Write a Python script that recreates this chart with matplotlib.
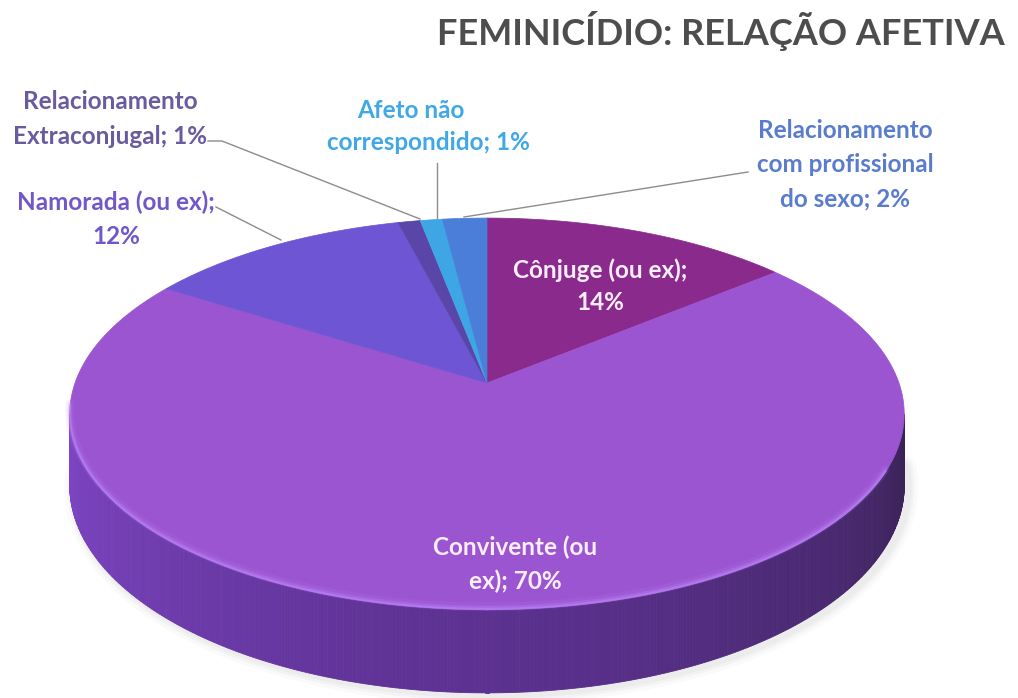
import matplotlib.pyplot as plt
import numpy as np
from matplotlib.patches import Polygon
from matplotlib.colors import to_rgb

plt.rcParams['font.family'] = ['Lato', 'DejaVu Sans']

# DATA
categories = ['Cônjuge (ou ex)', 'Convivente (ou ex)', 'Namorada (ou ex)',
              'Relacionamento Extraconjugal', 'Afeto não correspondido',
              'Relacionamento com profissional do sexo']
values = [14, 70, 12, 1, 1, 2]
label_texts = ['Cônjuge (ou ex);\n14%', 'Convivente (ou\nex); 70%', 'Namorada (ou ex);\n12%',
               'Relacionamento\nExtraconjugal; 1%', 'Afeto não\ncorrespondido; 1%',
               'Relacionamento\ncom profissional\ndo sexo; 2%']
colors = ['#8a2a8c', '#9b55d0', '#6d55d4', '#5a45a8', '#3ea6e4', '#4a7ed8']
label_colors = ['#fbeefb', '#fbeefb', '#7158c8', '#6a5a9e', '#40a8e6', '#5a7ccc']

# geometry of the 3D pie (pixel space)
cx, cy = 487, 383
A, B, k = 412, 191, 0.158
depth = 83


def proj(t, drop=0.0):
    d = np.sin(t)
    w = 1 + k * d
    return cx + A * np.cos(t) / w, cy - B * d / w + drop / w * (1 - k)


fig = plt.figure(figsize=(10.18, 6.98), dpi=100)
ax = fig.add_axes([0, 0, 1, 1])
ax.set_xlim(0, 1018)
ax.set_ylim(698, 0)
ax.axis('off')

# soft shadow under the bottom edge
tt = np.linspace(np.pi + 0.1, 2 * np.pi - 0.05, 300)
sx, sy = proj(tt, depth)
for lw, a in [(14, 0.04), (9, 0.05), (5, 0.06)]:
    ax.plot(sx + 4, sy + 2, color='gray', lw=lw, alpha=a, solid_capstyle='round', zorder=0)

# side of the pie (front half), gradient strips
ts = np.linspace(np.pi + np.arcsin(k), 2 * np.pi - np.arcsin(k), 400)
c_left = np.array(to_rgb('#7f46c6'))
c_mid = np.array(to_rgb('#5e3294'))
c_right = np.array(to_rgb('#3a2256'))
for i in range(len(ts) - 1):
    t0, t1 = ts[i], ts[i + 1]
    x0, y0 = proj(t0)
    x1, y1 = proj(t1)
    bx0, by0 = proj(t0, depth)
    bx1, by1 = proj(t1, depth)
    f = i / (len(ts) - 2)
    if f < 0.45:
        col = c_left + (c_mid - c_left) * (f / 0.45)
    else:
        col = c_mid + (c_right - c_mid) * ((f - 0.45) / 0.55) ** 1.2
    ax.add_patch(Polygon([[x0, y0], [x1, y1], [bx1, by1], [bx0, by0]],
                         closed=True, fc=col, ec=col, lw=0.6, zorder=1))

# top face wedges, starting at 12 o'clock going clockwise
total = sum(values)
cum = np.cumsum([0] + values) / total
bounds = np.pi / 2 - 2 * np.pi * cum
for i, v in enumerate(values):
    tt = np.linspace(bounds[i], bounds[i + 1], 200)
    px, py = proj(tt)
    ax.add_patch(Polygon(np.c_[np.r_[cx, px], np.r_[cy, py]], closed=True,
                         fc=colors[i], ec=colors[i], lw=0.5, zorder=2))

# light bevel on the front edge
tt = np.linspace(np.pi + 0.12, 2 * np.pi - 0.45, 200)
rx, ry = proj(tt)
for lw, a, off in [(6, 0.12, -3), (3, 0.25, -2), (1.5, 0.45, -1)]:
    ax.plot(rx, ry + off, color='#c08cff', lw=lw, alpha=a, solid_capstyle='round', zorder=3)

fs = 17.5
ls = 1.6
# inner labels
ax.text(600, 286, label_texts[0], ha='center', va='center', fontsize=fs, fontweight='bold',
        color=label_colors[0], linespacing=1.5, zorder=5)
ax.text(515, 564, label_texts[1], ha='center', va='center', fontsize=fs, fontweight='bold',
        color=label_colors[1], linespacing=1.55, zorder=5)

# outer labels with leader lines
outer = {
    2: dict(pos=(116, 219), line=[(216, 207), (281, 240)]),
    3: dict(pos=(110, 119), line=[(208, 141), (222, 141), (420, 219)]),
    5: dict(pos=(845, 165), line=[(748, 172), (464, 217)]),
}
for i, o in outer.items():
    ax.text(o['pos'][0], o['pos'][1], label_texts[i], ha='center', va='center', fontsize=fs,
            fontweight='bold', color=label_colors[i], linespacing=ls, zorder=5)
    lx, ly = zip(*o['line'])
    ax.plot(lx, ly, color='#8c8c8c', lw=1.0, zorder=4)

# "Afeto não correspondido" label: Excel wraps the two lines off-centre
afeto_lines = label_texts[4].split('\n')
ax.text(411, 111, afeto_lines[0], ha='center', va='center', fontsize=fs, fontweight='bold',
        color=label_colors[4], zorder=5)
ax.text(428, 143, afeto_lines[1], ha='center', va='center', fontsize=fs, fontweight='bold',
        color=label_colors[4], zorder=5)
ax.plot([437, 437], [163, 218], color='#8c8c8c', lw=1.0, zorder=4)

ax.text(1005, 31, 'FEMINICÍDIO: RELAÇÃO AFETIVA', ha='right', va='center', fontsize=26,
        fontweight='bold', color='#4d4d4d')

fig.savefig('out.png', dpi=100)
